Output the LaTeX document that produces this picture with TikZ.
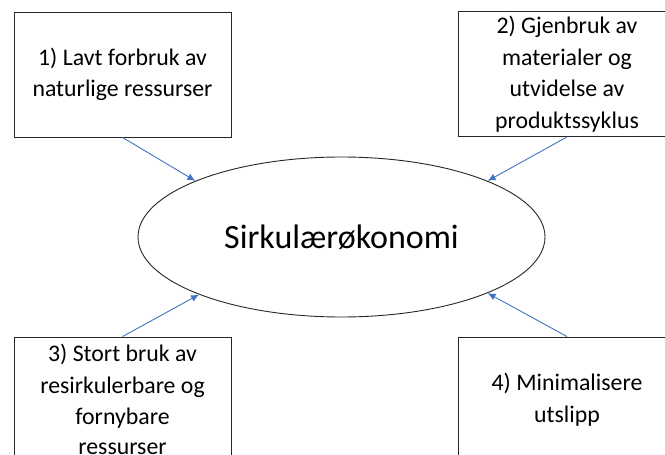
\documentclass[tikz,border=0pt]{standalone}
\usepackage{fontspec}
\setmainfont{Carlito}
\usetikzlibrary{shapes.geometric, arrows.meta, positioning}

\definecolor{pilblaa}{HTML}{4472C4}

\tikzset{
	boks/.style={draw=black!85, line width=0.9pt, minimum width=217, minimum height=125, inner sep=0pt, align=center, font=\fontsize{23.8}{31.5}\selectfont},
	pil/.style={draw=pilblaa, line width=0.9pt, -{Latex[length=8pt, width=7pt]}}
}

\begin{document}
\begin{tikzpicture}[x=1pt, y=-1pt]
		
		%//canvas of 665 x 455
		\useasboundingbox (0,0) rectangle (665,455);
		\clip (0,0) rectangle (665,455);
		
		\node [draw=black!85, line width=0.9pt, ellipse, minimum width=407, minimum height=160, inner sep=0pt, font=\fontsize{34}{40}\selectfont] (sirk) at (341.5,237) {Sirkulærøkonomi};
		
		\node [boks] (b1) at (122.5,74.5) {1) Lavt forbruk av\\naturlige ressurser};
		\node [boks] (b2) at (567,74) {2) Gjenbruk av\\materialer og\\utvidelse av\\produktssyklus};
		\node [boks] (b3) at (122.5,399.5) {3) Stort bruk av\\resirkulerbare og\\fornybare\\[-1.5pt]ressurser};
		\node [boks] (b4) at (567,399.5) {4) Minimalisere\\utslipp};
		
		\foreach \b/\s/\v in {b1/south/159, b2/south/21, b3/north/202, b4/north/-21}
		\draw [pil] (\b.\s) -- (sirk.\v);
		
		\end{tikzpicture}
\end{document}
